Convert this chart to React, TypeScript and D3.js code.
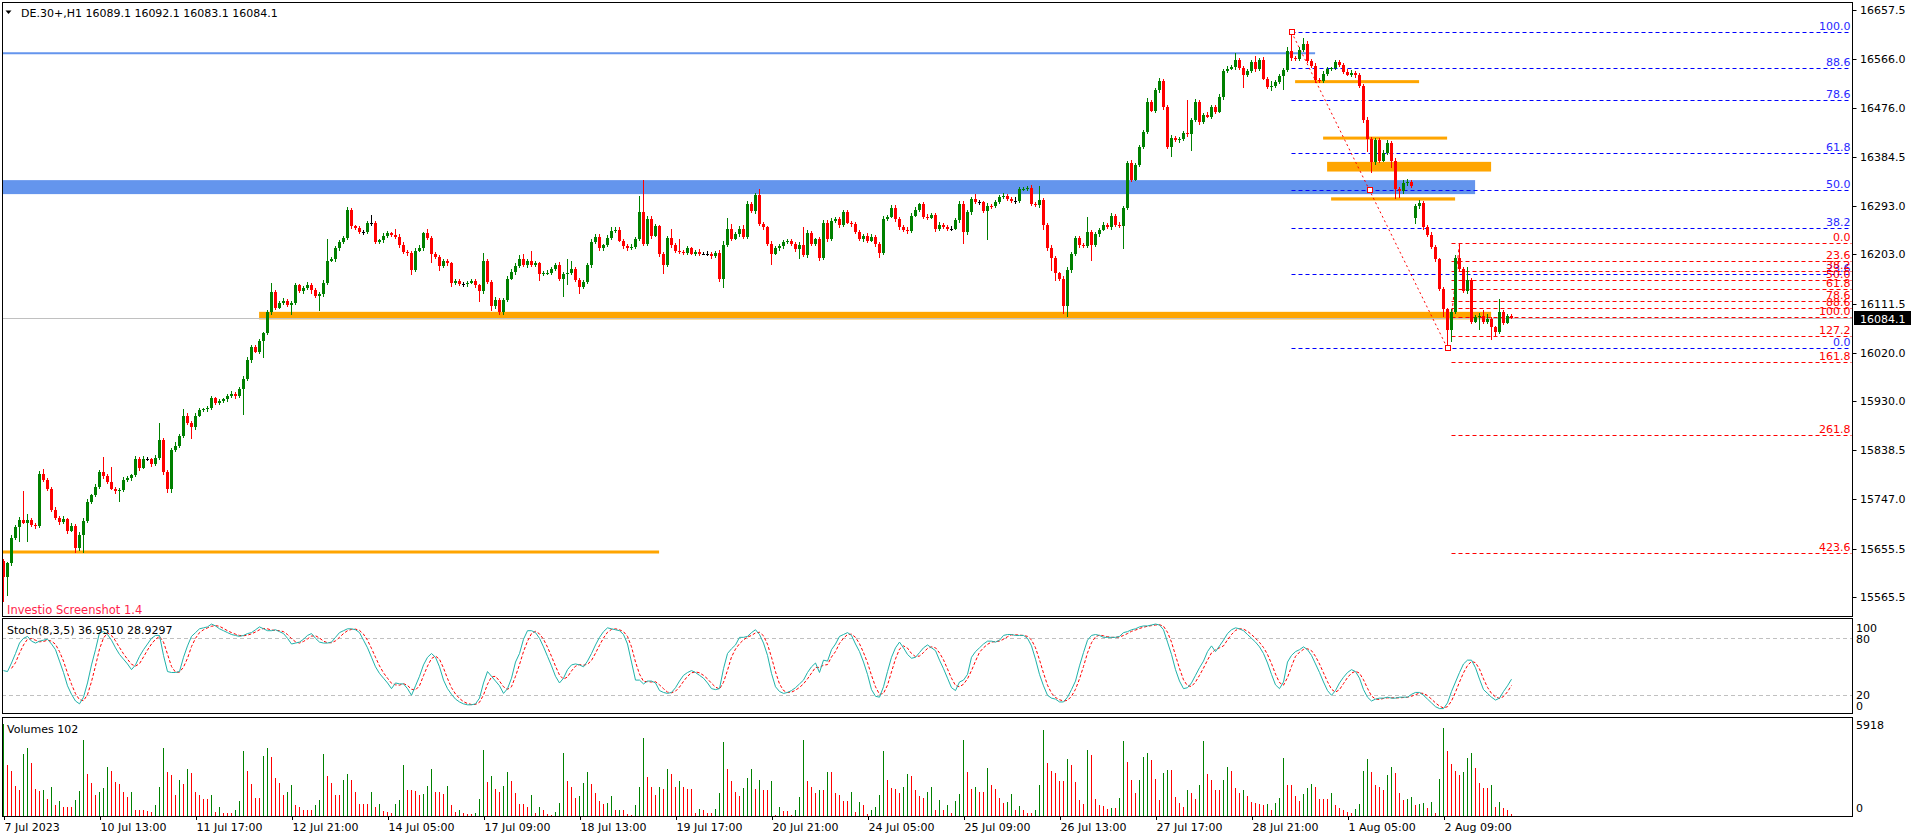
import React from "react";
import * as d3 from "d3";

const W = 1916;
const H = 840;
const FONT = "'DejaVu Sans', Tahoma, Verdana, sans-serif";

const symbol = "DE.30+,H1";
const stochTitle = "Stoch(8,3,5) 36.9510 28.9297";
const watermark = "Investio Screenshot 1.4";

const firstOpen = 15632;
// hourly closes, bar 0 .. 377
const closes = [
  15602, 15628, 15676, 15696, 15708, 15704, 15708, 15700, 15697, 15795,
  15783, 15767, 15728, 15712, 15705, 15710, 15689, 15698, 15657, 15681,
  15707, 15743, 15755, 15770, 15798, 15790, 15779, 15767, 15762, 15765,
  15783, 15786, 15792, 15822, 15806, 15822, 15822, 15812, 15825, 15857,
  15798, 15767, 15839, 15847, 15865, 15903, 15889, 15881, 15903, 15913,
  15915, 15917, 15935, 15927, 15930, 15933, 15939, 15944, 15939, 15952,
  15971, 16006, 16030, 16022, 16041, 16056, 16096, 16132, 16104, 16113,
  16117, 16109, 16112, 16145, 16134, 16140, 16146, 16136, 16126, 16129,
  16150, 16191, 16194, 16214, 16226, 16234, 16285, 16255, 16252, 16244,
  16244, 16261, 16261, 16226, 16229, 16238, 16242, 16239, 16236, 16220,
  16208, 16205, 16174, 16210, 16215, 16242, 16234, 16204, 16198, 16182,
  16190, 16186, 16150, 16153, 16147, 16147, 16150, 16153, 16145, 16134,
  16191, 16152, 16106, 16118, 16096, 16118, 16158, 16170, 16182, 16195,
  16183, 16191, 16183, 16186, 16166, 16168, 16169, 16176, 16183, 16158,
  16166, 16168, 16176, 16156, 16143, 16151, 16183, 16226, 16236, 16214,
  16220, 16234, 16246, 16249, 16228, 16218, 16214, 16217, 16231, 16281,
  16223, 16269, 16238, 16255, 16203, 16183, 16234, 16220, 16210, 16207,
  16206, 16214, 16204, 16207, 16204, 16204, 16204, 16199, 16206, 16158,
  16221, 16250, 16232, 16240, 16251, 16236, 16297, 16283, 16313, 16260,
  16253, 16222, 16204, 16214, 16218, 16226, 16227, 16222, 16213, 16221,
  16202, 16243, 16222, 16231, 16196, 16262, 16231, 16265, 16269, 16257,
  16281, 16262, 16259, 16244, 16231, 16238, 16228, 16236, 16222, 16206,
  16269, 16273, 16289, 16269, 16253, 16248, 16246, 16275, 16285, 16296,
  16273, 16271, 16276, 16250, 16258, 16254, 16251, 16251, 16266, 16297,
  16244, 16281, 16305, 16300, 16300, 16283, 16293, 16292, 16301, 16309,
  16312, 16305, 16303, 16303, 16324, 16325, 16327, 16296, 16294, 16304,
  16258, 16215, 16196, 16168, 16158, 16106, 16173, 16203, 16234, 16220,
  16218, 16244, 16220, 16241, 16249, 16258, 16254, 16274, 16258, 16255,
  16289, 16373, 16342, 16370, 16403, 16430, 16487, 16470, 16508, 16525,
  16477, 16403, 16420, 16415, 16418, 16428, 16426, 16453, 16487, 16449,
  16463, 16459, 16477, 16468, 16496, 16544, 16548, 16551, 16565, 16549,
  16536, 16544, 16561, 16548, 16565, 16530, 16515, 16517, 16523, 16534,
  16546, 16582, 16568, 16566, 16584, 16595, 16563, 16553, 16527, 16525,
  16539, 16548, 16549, 16560, 16556, 16542, 16537, 16541, 16536, 16517,
  16453, 16418, 16374, 16415, 16377, 16391, 16411, 16377, 16325, 16320,
  16336, 16338, 16330, 16292, 16299, 16254, 16239, 16217, 16194, 16139,
  16101, 16063, 16096, 16196, 16175, 16134, 16156, 16078, 16086, 16089,
  16078, 16082, 16067, 16059, 16096, 16076, 16089.1, 16084.1,
];
// opens that do not equal the previous close (session gaps)
const openGaps: Record<number, number> = { 353: 16270 };
// wick lengths in points above / below the body
const upperWick = [
  4, 3, 5, 4, 6, 55, 12, 5, 4, 5, 8, 4, 3, 5, 4, 6, 3, 5, 4, 6,
  5, 4, 3, 5, 4, 28, 5, 28, 4, 3, 5, 4, 3, 6, 4, 5, 4, 3, 4, 32,
  5, 3, 4, 6, 3, 12, 4, 3, 5, 4, 3, 4, 5, 3, 4, 3, 4, 5, 3, 4,
  5, 6, 4, 4, 5, 3, 4, 18, 4, 3, 4, 3, 5, 4, 3, 4, 5, 3, 4, 3,
  5, 41, 4, 5, 4, 3, 6, 4, 3, 4, 5, 4, 15, 4, 3, 5, 4, 3, 11, 4,
  5, 3, 4, 4, 5, 3, 8, 4, 3, 4, 5, 4, 3, 4, 5, 4, 3, 4, 5, 3,
  15, 4, 3, 5, 4, 3, 4, 5, 4, 6, 8, 4, 19, 5, 3, 4, 5, 3, 4, 6,
  4, 26, 14, 4, 3, 5, 4, 6, 5, 4, 3, 5, 8, 4, 5, 3, 4, 5, 4, 30,
  60, 6, 5, 4, 3, 5, 4, 16, 4, 21, 4, 5, 3, 4, 5, 4, 5, 3, 4, 5,
  6, 20, 10, 5, 4, 6, 5, 4, 4, 11, 4, 3, 5, 4, 5, 3, 4, 5, 3, 4,
  33, 5, 4, 3, 5, 5, 4, 6, 4, 3, 5, 4, 3, 4, 5, 3, 4, 5, 3, 4,
  6, 4, 6, 5, 3, 4, 5, 4, 6, 3, 4, 5, 3, 4, 5, 4, 3, 4, 5, 6,
  5, 4, 5, 11, 4, 3, 5, 4, 3, 4, 5, 3, 4, 7, 5, 4, 3, 5, 4, 26,
  4, 3, 5, 4, 3, 4, 6, 5, 4, 3, 4, 28, 5, 4, 3, 5, 4, 6, 4, 5,
  4, 4, 5, 3, 4, 5, 6, 4, 5, 6, 4, 3, 5, 4, 3, 5, 63, 4, 5, 4,
  3, 5, 4, 3, 6, 4, 5, 4, 12, 4, 5, 4, 3, 11, 4, 5, 3, 8, 4, 5,
  4, 6, 36, 4, 5, 11, 4, 3, 5, 4, 5, 4, 3, 5, 4, 3, 5, 4, 3, 4,
  3, 5, 4, 5, 4, 6, 4, 3, 5, 4, 5, 6, 4, 4, 5, 3, 4, 5, 4, 3,
  4, 3, 5, 5, 26, 4, 24, 3, 4, 5, 11, 10, 4, 3, 24, 4, 3, 3,
];
const lowerWick = [
  46, 34, 4, 5, 28, 3, 36, 4, 5, 3, 4, 5, 4, 3, 5, 4, 6, 3, 10, 5,
  33, 4, 5, 3, 4, 5, 4, 3, 5, 19, 4, 3, 5, 4, 6, 3, 4, 5, 3, 4,
  5, 8, 8, 4, 5, 3, 4, 22, 4, 3, 4, 5, 3, 4, 5, 3, 4, 3, 5, 4,
  47, 4, 5, 3, 4, 31, 4, 5, 4, 3, 5, 4, 19, 4, 3, 5, 4, 6, 4, 28,
  5, 4, 3, 5, 4, 3, 5, 4, 4, 3, 5, 4, 5, 4, 3, 5, 4, 3, 4, 5,
  4, 5, 10, 4, 3, 5, 4, 18, 4, 10, 4, 5, 8, 4, 3, 5, 4, 3, 5, 20,
  5, 4, 8, 4, 6, 5, 4, 3, 5, 4, 4, 5, 3, 4, 12, 4, 3, 5, 4, 5,
  34, 20, 4, 5, 13, 4, 3, 5, 4, 5, 4, 3, 5, 4, 3, 5, 4, 3, 5, 4,
  5, 4, 6, 3, 5, 17, 4, 5, 4, 3, 5, 4, 3, 5, 4, 3, 4, 5, 3, 6,
  18, 4, 5, 3, 4, 5, 4, 3, 5, 4, 5, 4, 21, 3, 4, 5, 4, 3, 5, 19,
  4, 5, 3, 4, 6, 4, 5, 3, 4, 5, 4, 3, 5, 4, 3, 5, 4, 3, 5, 10,
  5, 4, 3, 5, 4, 3, 5, 4, 3, 4, 5, 4, 3, 5, 4, 3, 5, 4, 3, 4,
  22, 5, 4, 3, 5, 4, 53, 4, 3, 5, 4, 3, 5, 7, 4, 3, 5, 4, 3, 4,
  9, 5, 24, 15, 4, 14, 19, 4, 3, 5, 4, 3, 30, 4, 5, 3, 4, 5, 4, 3,
  42, 4, 5, 3, 4, 5, 4, 3, 5, 4, 5, 4, 19, 3, 4, 5, 4, 30, 3, 5,
  4, 3, 5, 4, 3, 5, 4, 3, 5, 4, 23, 4, 3, 5, 4, 3, 5, 9, 4, 3,
  26, 4, 5, 3, 4, 5, 4, 3, 5, 4, 3, 5, 4, 3, 5, 4, 3, 4, 5, 4,
  5, 25, 20, 4, 5, 3, 4, 14, 19, 12, 4, 5, 3, 10, 4, 5, 3, 4, 5, 4,
  14, 35, 24, 4, 5, 3, 4, 5, 3, 23, 4, 5, 23, 9, 4, 5, 3, 1,
];

// Stochastic main line (%K), bar 0 .. 377
const stochMain = [
  46, 45, 54, 64, 75, 80, 82, 77, 75, 77, 78, 79, 74, 68, 56, 44, 30, 21, 14, 11,
  18, 33, 52, 68, 86, 87, 84, 78, 70, 63, 58, 53, 47, 52, 61, 68, 74, 80, 83, 83,
  62, 45, 44, 44, 45, 60, 72, 82, 86, 90, 91, 92, 95, 93, 90, 88, 86, 84, 83, 82,
  83, 85, 86, 89, 92, 90, 88, 88, 89, 87, 85, 80, 74, 75, 76, 79, 83, 85, 80, 76,
  75, 75, 76, 81, 86, 88, 90, 90, 89, 86, 78, 70, 60, 50, 43, 38, 33, 27, 33, 32,
  32, 27, 20, 30, 40, 52, 60, 64, 60, 50, 36, 27, 21, 16, 13, 11, 10, 10, 11, 17,
  33, 45, 40, 35, 30, 22, 27, 38, 55, 64, 79, 88, 88, 86, 80, 71, 61, 51, 40, 33,
  38, 47, 52, 53, 52, 50, 56, 64, 73, 81, 87, 91, 90, 89, 88, 84, 74, 55, 36, 36,
  32, 35, 35, 33, 25, 23, 22, 23, 28, 35, 41, 44, 46, 44, 41, 38, 33, 27, 26, 27,
  48, 64, 69, 73, 81, 81, 82, 86, 89, 84, 75, 62, 43, 29, 24, 22, 23, 25, 28, 32,
  36, 44, 50, 54, 44, 57, 56, 68, 74, 82, 84, 86, 83, 74, 66, 55, 42, 26, 19, 18,
  29, 45, 60, 70, 76, 70, 63, 59, 60, 65, 70, 73, 70, 67, 57, 48, 38, 28, 25, 34,
  36, 42, 60, 66, 70, 74, 77, 77, 76, 78, 83, 84, 84, 83, 83, 83, 80, 72, 58, 42,
  30, 20, 17, 16, 13, 13, 18, 26, 35, 51, 65, 78, 83, 84, 83, 81, 81, 81, 81, 82,
  86, 87, 89, 90, 92, 93, 93, 94, 95, 94, 89, 76, 63, 47, 35, 27, 28, 33, 41, 49,
  56, 66, 72, 66, 72, 78, 85, 89, 91, 90, 88, 84, 80, 76, 71, 64, 54, 42, 31, 27,
  34, 55, 62, 66, 68, 71, 68, 62, 53, 44, 34, 25, 20, 25, 33, 39, 44, 47, 45, 38,
  26, 18, 14, 16, 17, 17, 18, 17, 17, 18, 18, 18, 21, 23, 23, 20, 16, 12, 8, 6,
  6, 12, 24, 34, 44, 53, 57, 57, 49, 37, 26, 22, 18, 15, 17, 24, 30, 36.95,
];

// tick volumes, bar 0 .. 377
const volumes = [
  5918, 3300, 2890, 1930, 1650, 4000, 4400, 3440, 1740, 1600, 1650, 1100, 1850, 690, 960, 610, 610, 550, 1050, 1600,
  4900, 2670, 2150, 1380, 1520, 1790, 3170, 2890, 2200, 2070, 1520, 1240, 1520, 410, 410, 410, 330, 280, 690, 1870,
  4400, 2810, 2620, 1380, 2340, 2070, 3030, 2750, 1520, 1380, 1100, 1100, 1380, 280, 550, 190, 190, 190, 410, 960,
  4190, 2890, 2070, 1180, 1180, 3860, 4350, 3770, 2420, 2150, 1380, 1520, 2010, 690, 550, 410, 410, 410, 690, 1050,
  4000, 2560, 2150, 1380, 1380, 2290, 2670, 2290, 1520, 770, 770, 770, 1520, 550, 770, 330, 280, 220, 770, 1050,
  3300, 1650, 1650, 1600, 1380, 1430, 1930, 3030, 1520, 1520, 1430, 1930, 690, 280, 360, 220, 140, 140, 220, 1100,
  4270, 2200, 2560, 1710, 1520, 1930, 2810, 2260, 1460, 770, 770, 550, 1320, 190, 550, 360, 140, 55, 280, 830,
  4050, 2260, 1870, 1180, 1290, 2150, 2840, 2070, 1460, 960, 740, 830, 1290, 360, 410, 410, 140, 55, 690, 1870,
  5040, 2530, 1870, 1380, 1870, 1740, 3030, 2700, 1850, 2260, 1870, 1740, 1740, 190, 470, 410, 190, 190, 470, 1460,
  4740, 3030, 2260, 1520, 1290, 1790, 2420, 3030, 1740, 2340, 1650, 1650, 2260, 55, 550, 330, 330, 80, 410, 1240,
  4880, 2260, 1870, 1460, 1650, 1650, 2840, 2840, 1460, 1380, 960, 960, 1570, 280, 910, 690, 140, 410, 550, 1380,
  4190, 2340, 1790, 1740, 1460, 1870, 2670, 2560, 1650, 1290, 1180, 1520, 1870, 410, 1050, 410, 690, 190, 960, 1430,
  4880, 2840, 1740, 1870, 1520, 1520, 3110, 2010, 1710, 1180, 860, 920, 1410, 360, 620, 360, 200, 200, 360, 2010,
  5560, 3390, 2900, 2760, 2270, 2270, 3650, 3260, 2170, 1020, 790, 4240, 3920, 1120, 690, 620, 430, 530, 530, 1180,
  4800, 3490, 2340, 1510, 2340, 3820, 4050, 3590, 2400, 1020, 2760, 2990, 2930, 1250, 860, 590, 1680, 1450, 1120, 2010,
  4800, 2730, 2340, 1680, 1680, 2340, 3160, 2900, 1780, 1450, 1680, 1280, 920, 860, 790, 690, 760, 360, 860, 1180,
  3720, 2010, 2010, 1280, 950, 1410, 1780, 2070, 1840, 1120, 1120, 1120, 1450, 690, 530, 360, 260, 200, 430, 760,
  2900, 3650, 2830, 2010, 1840, 1680, 2660, 3160, 2760, 1510, 1020, 1120, 1250, 690, 790, 860, 530, 920, 200, 2400,
  5630, 4210, 3320, 2900, 2660, 2830, 3720, 4080, 3060, 2110, 1780, 1780, 2010, 590, 920, 530, 360, 102,
];

const timeLabels = [
  "7 Jul 2023", "10 Jul 13:00", "11 Jul 17:00", "12 Jul 21:00", "14 Jul 05:00", "17 Jul 09:00",
  "18 Jul 13:00", "19 Jul 17:00", "20 Jul 21:00", "24 Jul 05:00", "25 Jul 09:00", "26 Jul 13:00",
  "27 Jul 17:00", "28 Jul 21:00", "1 Aug 05:00", "2 Aug 09:00",
];
const barsPerLabel = 24;

const priceTicks = [
  16657.5, 16566.0, 16476.0, 16384.5, 16293.0, 16203.0, 16111.5,
  16020.0, 15930.0, 15838.5, 15747.0, 15655.5, 15565.5,
];

// Fibonacci retracement drawn from the 28 Jul high to the 2 Aug low
const blueFibHigh = 16616.5;
const blueFibLow = 16028;
const blueFibBars = [322, 361];
const blueFibLevels = [100, 88.6, 78.6, 61.8, 50, 38.2, 23.6, 0];
// second Fibonacci from the rebound high
const redFibZero = 16223.5;
const redFibHundred = 16087.3;
const redFibBars = [364, 362];
const redFibLevels = [0, 23.6, 38.2, 50, 61.8, 78.6, 88.6, 100, 127.2, 161.8, 261.8, 423.6];

// drawn objects: [price low, price high, from bar, to bar]
const blueZone = [16315, 16341, -1, 367.9];
const blueLine = [16577, -1, 327.9];
const orangeZones = [
  [16082, 16096, 63.9, 371.9],
  [15648, 15652, -1, 163.9],
  [16523, 16527, 322.9, 353.9],
  [16419, 16422, 329.9, 360.9],
  [16357, 16375, 330.9, 371.9],
  [16303, 16309, 331.9, 362.9],
];

const stochLevels = [80, 20];

const PLOT_L = 2;
const AXIS_X = 1852.5;
const MAIN = [2.5, 616];
const STOCH = [618.5, 713.5];
const VOL = [717, 816];

const x = d3.scaleLinear().domain([0, 1]).range([3.5, 7.5]);
const y = d3.scaleLinear().domain([15565.5, 16657.5]).range([597, 10]);
const sy = d3.scaleLinear().domain([0, 100]).range([714.3, 619.3]);
const vy = d3.scaleLinear().domain([0, 5918]).range([816, 724]);

const opens = closes.map((c, i) => openGaps[i] ?? (i === 0 ? firstOpen : closes[i - 1]));
const stochSignal = stochMain.map((v, i) => (i < 2 ? null : d3.mean(stochMain.slice(i - 2, i + 1))!));

const GREEN = "#008000";
const RED = "#ff0000";

export default function App() {
  const last = closes.length - 1;
  const lastO = opens[last];
  const lastH = Math.max(lastO, closes[last]) + upperWick[last];
  const lastL = Math.min(lastO, closes[last]) - lowerWick[last];
  const header = `${symbol}  ${lastO.toFixed(1)} ${lastH.toFixed(1)} ${lastL.toFixed(1)} ${closes[last].toFixed(1)}`;

  const mainLine = d3.line<number>().x((_, i) => x(i)).y((v) => sy(v));
  const sigLine = d3
    .line<number | null>()
    .defined((v) => v !== null)
    .x((_, i) => x(i))
    .y((v) => sy(v as number));

  const bluePrice = (l: number) => blueFibLow + ((blueFibHigh - blueFibLow) * l) / 100;
  const redPrice = (l: number) => redFibZero - ((redFibZero - redFibHundred) * l) / 100;
  const fibRight = AXIS_X - 1;

  const handle = (cx: number, cy: number, key: string) => (
    <rect key={key} x={Math.round(cx) - 2.5} y={Math.round(cy) - 2.5} width={5} height={5} fill="#fff" stroke={RED} strokeWidth={1} />
  );

  const d0 = [x(blueFibBars[0]), y(blueFibHigh)];
  const d1 = [x(blueFibBars[1]), y(blueFibLow)];

  return (
    <div style={{ position: "absolute", left: 0, top: 0 }}>
      <svg width={W} height={H} style={{ display: "block", background: "#fff" }} fontFamily={FONT}>
        <defs>
          <clipPath id="mainClip">
            <rect x={PLOT_L + 1} y={MAIN[0] + 0.5} width={AXIS_X - PLOT_L - 1.5} height={MAIN[1] - MAIN[0] - 1} />
          </clipPath>
          <clipPath id="stochClip">
            <rect x={PLOT_L + 1} y={STOCH[0] + 0.5} width={AXIS_X - PLOT_L - 1.5} height={STOCH[1] - STOCH[0] - 1} />
          </clipPath>
          <clipPath id="volClip">
            <rect x={PLOT_L + 1} y={VOL[0] + 0.5} width={AXIS_X - PLOT_L - 1.5} height={VOL[1] - VOL[0] - 0.5} />
          </clipPath>
        </defs>

        {/* main price panel */}
        <g clipPath="url(#mainClip)">
          <rect
            x={x(blueZone[2])}
            y={y(blueZone[1])}
            width={x(blueZone[3]) - x(blueZone[2])}
            height={y(blueZone[0]) - y(blueZone[1])}
            fill="#6495ed"
          />
          <line x1={x(blueLine[1])} x2={x(blueLine[2])} y1={y(blueLine[0])} y2={y(blueLine[0])} stroke="#6495ed" strokeWidth={2} />
          {orangeZones.map((z, i) => (
            <rect key={i} x={x(z[2])} y={y(z[1])} width={x(z[3]) - x(z[2])} height={Math.max(3, y(z[0]) - y(z[1]))} fill="#ffa500" />
          ))}
          <line x1={PLOT_L} x2={AXIS_X} y1={Math.round(y(closes[last])) + 0.5} y2={Math.round(y(closes[last])) + 0.5} stroke="#c0c0c0" />

          {/* blue fibo */}
          {blueFibLevels.map((l) => {
            const yy = Math.round(y(bluePrice(l))) + 0.5;
            return (
              <g key={"b" + l}>
                <line x1={x(blueFibBars[0])} x2={fibRight} y1={yy} y2={yy} stroke="#0000ff" strokeDasharray="4,3" />
                <text x={fibRight - 1} y={yy - 3} textAnchor="end" fontSize={11} fill="#2828ff">{l.toFixed(1)}</text>
              </g>
            );
          })}
          {/* red fibo */}
          {redFibLevels.map((l) => {
            const yy = Math.round(y(redPrice(l))) + 0.5;
            return (
              <g key={"r" + l}>
                <line x1={x(redFibBars[1])} x2={fibRight} y1={yy} y2={yy} stroke={RED} strokeDasharray="4,3" />
                <text x={fibRight - 1} y={yy - 3} textAnchor="end" fontSize={11} fill={RED}>{l.toFixed(1)}</text>
              </g>
            );
          })}
          <line x1={d0[0]} y1={d0[1]} x2={d1[0]} y2={d1[1]} stroke={RED} strokeDasharray="2,3" />
          <line
            x1={x(redFibBars[0])}
            y1={y(redFibZero)}
            x2={x(redFibBars[1])}
            y2={y(redFibHundred)}
            stroke={RED}
            strokeDasharray="3,3"
          />

          {/* candles */}
          <g shapeRendering="crispEdges">
            {closes.map((c, i) => {
              const o = opens[i];
              const hi = Math.max(o, c) + upperWick[i];
              const lo = Math.min(o, c) - lowerWick[i];
              const col = c > o ? GREEN : c < o ? RED : "#000";
              const xc = x(i);
              const yHi = Math.round(y(hi));
              const yLo = Math.round(y(lo));
              const yTop = Math.round(y(Math.max(o, c)));
              const yBot = Math.round(y(Math.min(o, c)));
              return (
                <g key={i} fill={col}>
                  <rect x={xc - 0.5} y={yHi} width={1} height={Math.max(1, yLo - yHi)} />
                  <rect x={xc - 1.5} y={yTop} width={3} height={Math.max(1, yBot - yTop)} />
                </g>
              );
            })}
          </g>

          {handle(d0[0], d0[1], "h0")}
          {handle((d0[0] + d1[0]) / 2, (d0[1] + d1[1]) / 2, "h1")}
          {handle(d1[0], d1[1], "h2")}
        </g>

        {/* header */}
        <path d="M5.5,10.5 L11.5,10.5 L8.5,14 Z" fill="#000" />
        <text x={21} y={17} fontSize={11} fill="#000">{header}</text>
        <text x={7} y={614} fontSize={11.5} fill="#ff1f4b">{watermark}</text>

        {/* stochastic panel */}
        <g clipPath="url(#stochClip)">
          {stochLevels.map((l) => (
            <line key={l} x1={PLOT_L} x2={AXIS_X} y1={Math.round(sy(l)) + 0.5} y2={Math.round(sy(l)) + 0.5} stroke="#c0c0c0" strokeDasharray="4,3" />
          ))}
          <path d={sigLine(stochSignal) ?? ""} fill="none" stroke={RED} strokeDasharray="3,2" />
          <path d={mainLine(stochMain) ?? ""} fill="none" stroke="#20b2aa" />
        </g>
        <text x={7} y={634} fontSize={11} fill="#000">{stochTitle}</text>

        {/* volumes panel */}
        <g clipPath="url(#volClip)" shapeRendering="crispEdges">
          {volumes.map((v, i) => (
            <rect
              key={i}
              x={x(i) - 0.5}
              y={vy(v)}
              width={1}
              height={vy(0) - vy(v)}
              fill={i === 0 || v > volumes[i - 1] ? GREEN : RED}
            />
          ))}
        </g>
        <text x={7} y={733} fontSize={11} fill="#000">{`Volumes ${volumes[last]}`}</text>

        {/* frames */}
        <g fill="none" stroke="#000" shapeRendering="crispEdges">
          <rect x={PLOT_L + 0.5} y={MAIN[0]} width={AXIS_X - PLOT_L - 0.5} height={MAIN[1] - MAIN[0]} />
          <rect x={PLOT_L + 0.5} y={STOCH[0]} width={AXIS_X - PLOT_L - 0.5} height={STOCH[1] - STOCH[0]} />
          <rect x={PLOT_L + 0.5} y={VOL[0]} width={AXIS_X - PLOT_L - 0.5} height={VOL[1] - VOL[0]} />
        </g>

        {/* price axis */}
        <g fontSize={11} fill="#000">
          {priceTicks.map((p) => (
            <g key={p}>
              <line x1={AXIS_X} x2={AXIS_X + 4} y1={Math.round(y(p)) + 0.5} y2={Math.round(y(p)) + 0.5} stroke="#000" />
              <text x={1860} y={y(p) + 4}>{p.toFixed(1)}</text>
            </g>
          ))}
          <rect x={1854} y={Math.round(y(closes[last])) - 7} width={57} height={14} fill="#000" />
          <text x={1860} y={y(closes[last]) + 4.5} fill="#fff">{closes[last].toFixed(1)}</text>

          <text x={1856} y={sy(100) + 13}>100</text>
          <text x={1856} y={sy(80) + 5}>80</text>
          <text x={1856} y={sy(20) + 4}>20</text>
          <text x={1856} y={sy(0) - 4}>0</text>
          <text x={1856} y={vy(5918) + 5}>{d3.max(volumes)}</text>
          <text x={1856} y={vy(0) - 4}>0</text>
        </g>

        {/* time axis */}
        <g fontSize={11} fill="#000">
          {timeLabels.map((t, k) => {
            const xx = Math.round(x(k * barsPerLabel)) + 0.5;
            return (
              <g key={t}>
                <line x1={xx} x2={xx} y1={VOL[1]} y2={VOL[1] + 4} stroke="#000" />
                <text x={xx} y={831}>{t}</text>
              </g>
            );
          })}
        </g>
      </svg>
    </div>
  );
}
